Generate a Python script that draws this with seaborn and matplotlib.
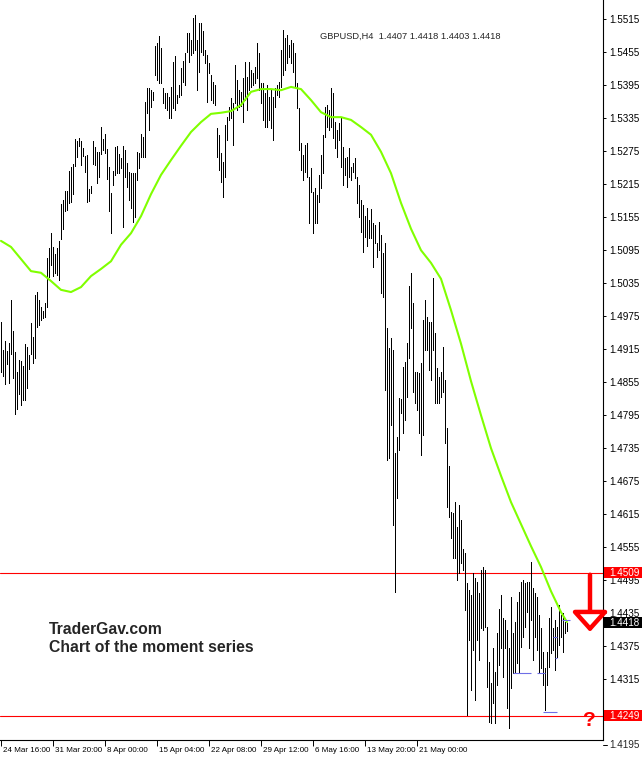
import matplotlib
matplotlib.use('Agg')
import matplotlib.pyplot as plt
import matplotlib.transforms as mtransforms
from matplotlib.patches import Rectangle, FancyArrowPatch
import seaborn as sns

# GBPUSD H4 bars, one high / low per bar
highs = [
    1.4965, 1.4914, 1.4930, 1.4912, 1.4926, 1.5005, 1.4948, 1.4910, 1.4874, 1.4895,
    1.4894, 1.4885, 1.4925, 1.4919, 1.4905, 1.4963, 1.4937, 1.5014, 1.5019, 1.5005,
    1.4992, 1.4985, 1.4999, 1.5081, 1.5099, 1.5126, 1.5101, 1.5088, 1.5099, 1.5112,
    1.5179, 1.5186, 1.5203, 1.5203, 1.5239, 1.5246, 1.5252, 1.5297, 1.5294, 1.5299,
    1.5294, 1.5281, 1.5266, 1.5268, 1.5206, 1.5212, 1.5294, 1.5283, 1.5274, 1.5274,
    1.5319, 1.5297, 1.5306, 1.5279, 1.5246, 1.5199, 1.5239, 1.5283, 1.5285, 1.5270,
    1.5263, 1.5285, 1.5277, 1.5254, 1.5237, 1.5235, 1.5235, 1.5235, 1.5274, 1.5272,
    1.5306, 1.5301, 1.5365, 1.5390, 1.5390, 1.5386, 1.5383, 1.5466, 1.5472, 1.5485,
    1.5463, 1.5390, 1.5381, 1.5381, 1.5374, 1.5392, 1.5437, 1.5448, 1.5377, 1.5395,
    1.5426, 1.5439, 1.5454, 1.5490, 1.5490, 1.5477, 1.5517, 1.5523, 1.5477, 1.5508,
    1.5508, 1.5494, 1.5459, 1.5450, 1.5435, 1.5414, 1.5401, 1.5395, 1.5317, 1.5305,
    1.5272, 1.5255, 1.5323, 1.5337, 1.5355, 1.5372, 1.5363, 1.5432, 1.5405, 1.5386,
    1.5383, 1.5408, 1.5437, 1.5410, 1.5437, 1.5423, 1.5417, 1.5428, 1.5472, 1.5454,
    1.5399, 1.5399, 1.5381, 1.5395, 1.5374, 1.5386, 1.5374, 1.5390, 1.5395, 1.5401,
    1.5459, 1.5495, 1.5481, 1.5486, 1.5468, 1.5477, 1.5472, 1.5454, 1.5399, 1.5354,
    1.5290, 1.5268, 1.5286, 1.5290, 1.5228, 1.5245, 1.5201, 1.5208, 1.5195, 1.5232,
    1.5268, 1.5305, 1.5355, 1.5359, 1.5350, 1.5390, 1.5381, 1.5328, 1.5314, 1.5326,
    1.5337, 1.5283, 1.5263, 1.5265, 1.5281, 1.5246, 1.5254, 1.5263, 1.5228, 1.5214,
    1.5186, 1.5177, 1.5157, 1.5172, 1.5150, 1.5170, 1.5145, 1.5141, 1.5108, 1.5146,
    1.5123, 1.5090, 1.5108, 1.4954, 1.4917, 1.4935, 1.4914, 1.4726, 1.4755, 1.4826,
    1.4825, 1.4883, 1.4892, 1.4926, 1.5030, 1.5054, 1.4999, 1.4874, 1.4874, 1.4872,
    1.4890, 1.4968, 1.5005, 1.4974, 1.4965, 1.4965, 1.5045, 1.4945, 1.4881, 1.4865,
    1.4874, 1.4919, 1.4859, 1.4772, 1.4703, 1.4619, 1.4617, 1.4637, 1.4592, 1.4632,
    1.4605, 1.4552, 1.4545, 1.4490, 1.4477, 1.4468, 1.4508, 1.4499, 1.4492, 1.4472,
    1.4514, 1.4519, 1.4514, 1.4410, 1.4346, 1.4308, 1.4372, 1.4328, 1.4399, 1.4443,
    1.4468, 1.4426, 1.4423, 1.4405, 1.4372, 1.4465, 1.4399, 1.4419, 1.4455, 1.4474,
    1.4492, 1.4495, 1.4490, 1.4492, 1.4492, 1.4528, 1.4481, 1.4472, 1.4465, 1.4432,
    1.4408, 1.4365, 1.4335, 1.4365, 1.4426, 1.4446, 1.4408, 1.4423, 1.4410, 1.4450,
    1.4432, 1.4435, 1.4419, 1.4418,
]
lows = [
    1.4874, 1.4866, 1.4852, 1.4888, 1.4854, 1.4906, 1.4863, 1.4797, 1.4806, 1.4834,
    1.4814, 1.4823, 1.4823, 1.4845, 1.4879, 1.4906, 1.4890, 1.4899, 1.4955, 1.4959,
    1.4968, 1.4972, 1.4974, 1.4992, 1.5046, 1.5068, 1.5048, 1.5054, 1.5050, 1.5041,
    1.5115, 1.5134, 1.5166, 1.5168, 1.5181, 1.5183, 1.5197, 1.5248, 1.5265, 1.5285,
    1.5250, 1.5266, 1.5237, 1.5183, 1.5185, 1.5199, 1.5252, 1.5250, 1.5217, 1.5228,
    1.5270, 1.5277, 1.5272, 1.5225, 1.5166, 1.5126, 1.5214, 1.5232, 1.5235, 1.5235,
    1.5245, 1.5137, 1.5228, 1.5210, 1.5186, 1.5172, 1.5146, 1.5155, 1.5223, 1.5245,
    1.5265, 1.5265, 1.5265, 1.5345, 1.5314, 1.5355, 1.5368, 1.5414, 1.5405, 1.5399,
    1.5399, 1.5363, 1.5354, 1.5350, 1.5335, 1.5335, 1.5354, 1.5350, 1.5363, 1.5374,
    1.5377, 1.5401, 1.5395, 1.5455, 1.5437, 1.5450, 1.5454, 1.5459, 1.5386, 1.5419,
    1.5455, 1.5450, 1.5435, 1.5365, 1.5417, 1.5368, 1.5363, 1.5359, 1.5265, 1.5241,
    1.5219, 1.5192, 1.5228, 1.5295, 1.5332, 1.5335, 1.5286, 1.5363, 1.5350, 1.5355,
    1.5357, 1.5328, 1.5368, 1.5350, 1.5386, 1.5392, 1.5395, 1.5399, 1.5408, 1.5386,
    1.5363, 1.5332, 1.5319, 1.5319, 1.5332, 1.5317, 1.5295, 1.5355, 1.5377, 1.5374,
    1.5392, 1.5414, 1.5423, 1.5435, 1.5446, 1.5435, 1.5419, 1.5392, 1.5354, 1.5277,
    1.5241, 1.5223, 1.5237, 1.5228, 1.5145, 1.5201, 1.5126, 1.5145, 1.5145, 1.5183,
    1.5208, 1.5235, 1.5301, 1.5319, 1.5314, 1.5319, 1.5299, 1.5281, 1.5265, 1.5295,
    1.5246, 1.5214, 1.5232, 1.5210, 1.5228, 1.5223, 1.5237, 1.5226, 1.5181, 1.5155,
    1.5128, 1.5092, 1.5119, 1.5103, 1.5117, 1.5117, 1.5065, 1.5108, 1.5083, 1.5095,
    1.5017, 1.5010, 1.4841, 1.4714, 1.4717, 1.4777, 1.4595, 1.4474, 1.4645, 1.4732,
    1.4799, 1.4763, 1.4786, 1.4828, 1.4899, 1.4954, 1.4837, 1.4817, 1.4805, 1.4763,
    1.4723, 1.4759, 1.4914, 1.4914, 1.4877, 1.4859, 1.4914, 1.4817, 1.4817, 1.4817,
    1.4828, 1.4837, 1.4745, 1.4628, 1.4610, 1.4572, 1.4535, 1.4535, 1.4495, 1.4508,
    1.4526, 1.4514, 1.4441, 1.4250, 1.4386, 1.4295, 1.4368, 1.4277, 1.4386, 1.4350,
    1.4408, 1.4405, 1.4410, 1.4301, 1.4237, 1.4235, 1.4272, 1.4235, 1.4305, 1.4341,
    1.4372, 1.4319, 1.4372, 1.4263, 1.4226, 1.4299, 1.4326, 1.4326, 1.4345, 1.4326,
    1.4374, 1.4392, 1.4410, 1.4437, 1.4372, 1.4423, 1.4350, 1.4392, 1.4368, 1.4326,
    1.4335, 1.4305, 1.4259, 1.4305, 1.4337, 1.4363, 1.4368, 1.4332, 1.4355, 1.4377,
    1.4392, 1.4365, 1.4399, 1.4403,
]
bars = list(range(len(highs)))

# moving average, sampled every 5 bars
ma_bar = list(range(0, 281, 5)) + [283]
ma_val = [
    1.5112, 1.5101, 1.5079, 1.5057, 1.5054, 1.5039, 1.5023, 1.5019, 1.5028, 1.5048,
    1.5061, 1.5075, 1.5105, 1.5126, 1.5157, 1.5197, 1.5232, 1.5259, 1.5285, 1.5310,
    1.5328, 1.5343, 1.5345, 1.5348, 1.5359, 1.5383, 1.5388, 1.5388, 1.5386, 1.5392,
    1.5388, 1.5368, 1.5346, 1.5337, 1.5337, 1.5332, 1.5319, 1.5305, 1.5274, 1.5235,
    1.5181, 1.5134, 1.5095, 1.5072, 1.5043, 1.4986, 1.4925, 1.4857, 1.4795, 1.4735,
    1.4685, 1.4637, 1.4597, 1.4557, 1.4519, 1.4475, 1.4437, 1.4419,
]

x_labels = ['24 Mar 16:00', '31 Mar 20:00', '8 Apr 00:00', '15 Apr 04:00',
            '22 Apr 08:00', '29 Apr 12:00', '6 May 16:00', '13 May 20:00',
            '21 May 00:00']
x_label_bars = [0, 26, 52, 78, 104, 130, 156, 182, 208]
y_ticks = [1.5515, 1.5455, 1.5395, 1.5335, 1.5275, 1.5215, 1.5155, 1.5095,
           1.5035, 1.4975, 1.4915, 1.4855, 1.4795, 1.4735, 1.4675, 1.4615,
           1.4555, 1.4495, 1.4435, 1.4375, 1.4315, 1.4255]
bottom_tick = 1.4195

resistance = 1.4509
support = 1.4249
last_close = 1.4418
header = 'GBPUSD,H4  1.4407 1.4418 1.4403 1.4418'

# small blue order markers (price, first bar, last bar)
mark_price = [1.4326, 1.4326, 1.4255, 1.4392, 1.4354, 1.4423]
mark_start = [256, 268, 271, 276, 277, 280.5]
mark_end = [265, 272, 278, 278, 278, 284.5]

sns.set_style('white')
plt.rcParams['font.family'] = ['Liberation Sans', 'DejaVu Sans']

W, H = 642, 765
fig = plt.figure(figsize=(W / 100, H / 100), dpi=100)
ax = fig.add_axes([0, 25 / H, 603 / W, 740 / H])
ax.set_xlim(-0.5, 301)
ax.set_ylim(1.42045, 1.5550)

# price bars, 1 px wide
ax.vlines(bars, lows, highs, color='black', lw=0.6, antialiased=False, zorder=3)
# moving average
sns.lineplot(x=ma_bar, y=ma_val, color='#80FF00', lw=1.5, ax=ax, zorder=4)
ax.hlines(mark_price, mark_start, mark_end, color='#6E6EE6', lw=0.8, zorder=4)

ax.axhline(resistance, color='red', lw=0.8, zorder=2)
ax.axhline(support, color='red', lw=0.8, zorder=2)

for s in ['left', 'top']:
    ax.spines[s].set_visible(False)
for s in ['right', 'bottom']:
    ax.spines[s].set_color('black')
    ax.spines[s].set_linewidth(0.8)

ax.yaxis.tick_right()
ax.set_yticks(y_ticks)
# the 1.4255 label sits under the support price box
ax.set_yticklabels([f'{v:.4f}' if v != 1.4255 else '' for v in y_ticks])
ax.tick_params(axis='y', right=True, direction='out', length=2.5, width=0.7,
               pad=2, labelsize=7.1, colors='black')
ax.set_xticks(x_label_bars)
ax.set_xticklabels(x_labels, ha='left')
ax.tick_params(axis='x', bottom=True, direction='out', length=4, width=0.7,
               pad=1, labelsize=5.8, colors='black')
shift = mtransforms.ScaledTranslation(2 / 100, 0, fig.dpi_scale_trans)
for lab in ax.get_xticklabels():
    lab.set_transform(lab.get_transform() + shift)
ax.set_xlabel('')
ax.set_ylabel('')

blend = mtransforms.blended_transform_factory(ax.transAxes, ax.transData)
lab_x = 1 + 6 / 603
ax.plot([1, 1 + 3.5 / 603], [bottom_tick, bottom_tick], transform=blend,
        color='black', lw=0.7, clip_on=False)
ax.text(lab_x, bottom_tick, f'{bottom_tick:.4f}', transform=blend, fontsize=7.1,
        va='center', ha='left', clip_on=False)

for price, fc in [(resistance, 'red'), (last_close, 'black'), (support, 'red')]:
    ax.add_patch(Rectangle((1 + 1 / 603, price - 0.001), 38 / 603, 0.002,
                           transform=blend, facecolor=fc, edgecolor='none',
                           clip_on=False, zorder=5))
    ax.text(lab_x, price, f'{price:.4f}', transform=blend, color='white',
            fontsize=7.1, va='center', ha='left', zorder=6, clip_on=False)

ax.text(320 / 603, 1 - 36 / 740, header, transform=ax.transAxes, fontsize=6.7,
        va='center', ha='left')
ax.text(49 / 603, 1 - 629 / 740, 'TraderGav.com', transform=ax.transAxes,
        fontsize=11.3, fontweight='bold', va='center', ha='left')
ax.text(49 / 603, 1 - 648 / 740, 'Chart of the moment series', transform=ax.transAxes,
        fontsize=11.3, fontweight='bold', va='center', ha='left')

# hand drawn style arrow and question mark
ax.add_patch(FancyArrowPatch((294.5, 1.4505), (294.5, 1.4401),
                             arrowstyle='-|>,head_length=12,head_width=10.8',
                             mutation_scale=1, shrinkA=0, shrinkB=0,
                             facecolor='white', edgecolor='red', lw=3.2,
                             clip_on=False, zorder=6))
ax.text(589 / 603, 1 - 720 / 740, '?', transform=ax.transAxes, color='red',
        fontsize=15, fontweight='bold', ha='center', va='center')

fig.savefig('out.png', dpi=100)
